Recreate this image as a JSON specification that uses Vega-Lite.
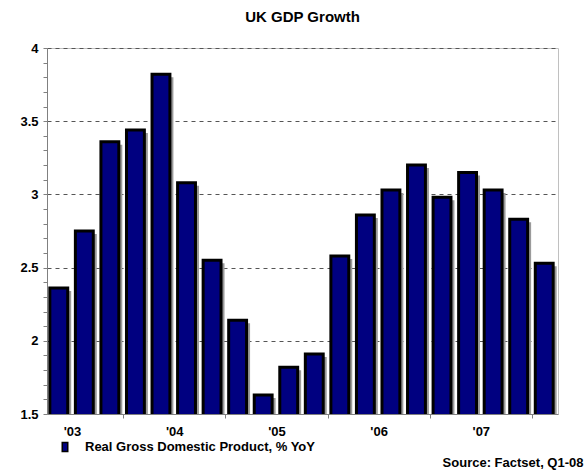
{
  "$schema": "https://vega.github.io/schema/vega-lite/v6.json",
  "autosize": {"type": "none"},
  "padding": {"left": 47, "top": 48, "right": 27, "bottom": 58},
  "width": 511,
  "height": 366,
  "background": "white",
  "title": {"text": "UK GDP Growth", "fontSize": 15, "font": "Liberation Sans", "fontWeight": "bold", "color": "black", "anchor": "middle", "baseline": "alphabetic", "offset": 5},
  "data": {"values": [
    {"quarter": "2003 Q2", "gdp": 2.36, "series": "Real Gross Domestic Product, % YoY"},
    {"quarter": "2003 Q3", "gdp": 2.75, "series": "Real Gross Domestic Product, % YoY"},
    {"quarter": "2003 Q4", "gdp": 3.36, "series": "Real Gross Domestic Product, % YoY"},
    {"quarter": "2004 Q1", "gdp": 3.44, "series": "Real Gross Domestic Product, % YoY"},
    {"quarter": "2004 Q2", "gdp": 3.82, "series": "Real Gross Domestic Product, % YoY"},
    {"quarter": "2004 Q3", "gdp": 3.08, "series": "Real Gross Domestic Product, % YoY"},
    {"quarter": "2004 Q4", "gdp": 2.55, "series": "Real Gross Domestic Product, % YoY"},
    {"quarter": "2005 Q1", "gdp": 2.14, "series": "Real Gross Domestic Product, % YoY"},
    {"quarter": "2005 Q2", "gdp": 1.63, "series": "Real Gross Domestic Product, % YoY"},
    {"quarter": "2005 Q3", "gdp": 1.82, "series": "Real Gross Domestic Product, % YoY"},
    {"quarter": "2005 Q4", "gdp": 1.91, "series": "Real Gross Domestic Product, % YoY"},
    {"quarter": "2006 Q1", "gdp": 2.58, "series": "Real Gross Domestic Product, % YoY"},
    {"quarter": "2006 Q2", "gdp": 2.86, "series": "Real Gross Domestic Product, % YoY"},
    {"quarter": "2006 Q3", "gdp": 3.03, "series": "Real Gross Domestic Product, % YoY"},
    {"quarter": "2006 Q4", "gdp": 3.20, "series": "Real Gross Domestic Product, % YoY"},
    {"quarter": "2007 Q1", "gdp": 2.98, "series": "Real Gross Domestic Product, % YoY"},
    {"quarter": "2007 Q2", "gdp": 3.15, "series": "Real Gross Domestic Product, % YoY"},
    {"quarter": "2007 Q3", "gdp": 3.03, "series": "Real Gross Domestic Product, % YoY"},
    {"quarter": "2007 Q4", "gdp": 2.83, "series": "Real Gross Domestic Product, % YoY"},
    {"quarter": "2008 Q1", "gdp": 2.53, "series": "Real Gross Domestic Product, % YoY"}
  ]},
  "encoding": {
    "x": {
      "field": "quarter", "type": "ordinal", "sort": null,
      "scale": {"paddingInner": 0, "paddingOuter": 0},
      "axis": {
        "title": "Source: Factset, Q1-08",
        "titleFontSize": 13, "titleFont": "Liberation Sans", "titleFontWeight": "bold", "titleColor": "black",
        "titleAnchor": "end", "titleAlign": "right", "titleBaseline": "alphabetic", "titleX": 536, "titleY": 52,
        "values": ["2003 Q2","2003 Q3","2003 Q4","2004 Q1","2004 Q2","2004 Q3","2004 Q4","2005 Q1","2005 Q2","2005 Q3","2005 Q4","2006 Q1","2006 Q2","2006 Q3","2006 Q4","2007 Q1","2007 Q2","2007 Q3","2007 Q4","2008 Q1"],
        "bandPosition": 0,
        "labelAngle": 0,
        "labelOverlap": false,
        "labelExpr": "indexof(datum.value, 'Q3') >= 0 ? \"'\" + substring(datum.value, 2, 4) : ''",
        "labelOffset": -12.8,
        "labelFontSize": 13, "labelFont": "Liberation Sans", "labelFontWeight": "bold", "labelColor": "black",
        "labelPadding": 7,
        "tickSize": 4, "tickColor": "#808080",
        "tickOpacity": {"condition": {"test": "indexof(datum.value, 'Q1') >= 0", "value": 1}, "value": 0},
        "domainColor": "#808080",
        "grid": false
      }
    },
    "y": {
      "field": "gdp", "type": "quantitative",
      "scale": {"domain": [1.5, 4], "nice": false, "zero": false},
      "axis": {
        "title": null,
        "values": [1.5,1.6,1.7,1.8,1.9,2.0,2.1,2.2,2.3,2.4,2.5,2.6,2.7,2.8,2.9,3.0,3.1,3.2,3.3,3.4,3.5,3.6,3.7,3.8,3.9,4.0],
        "labelExpr": "abs(datum.value*2 - round(datum.value*2)) < 0.01 ? format(datum.value, '.1~f') : ''",
        "labelOverlap": false,
        "labelFontSize": 13, "labelFont": "Liberation Sans", "labelFontWeight": "bold", "labelColor": "black",
        "labelPadding": 5,
        "tickSize": 4, "tickColor": "#808080",
        "domainColor": "#808080",
        "grid": true, "gridColor": "#555555", "gridDash": [4, 4],
        "gridOpacity": {"condition": {"test": "abs(datum.value*2 - round(datum.value*2)) < 0.01 && datum.value > 1.6", "value": 1}, "value": 0}
      }
    }
  },
  "layer": [
    {"mark": {"type": "bar", "color": "#9a9a9a", "xOffset": 2.5, "yOffset": 3, "width": {"band": 0.7}, "clip": true}},
    {
      "mark": {"type": "bar", "stroke": "black", "strokeWidth": 3, "xOffset": -1, "width": {"band": 0.7}, "clip": true},
      "encoding": {
        "color": {
          "field": "series", "type": "nominal",
          "scale": {"range": ["#000080"]},
          "legend": {
            "title": null, "orient": "none", "legendX": 11.5, "legendY": 392.5, "padding": 0,
            "symbolType": "M-0.55,-0.9H0.55V0.9H-0.55Z", "symbolSize": 100,
            "symbolStrokeColor": "black", "symbolStrokeWidth": 1.5, "symbolOpacity": 1,
            "labelFontSize": 13, "labelFont": "Liberation Sans", "labelFontWeight": "bold", "labelColor": "black",
            "labelOffset": 13.5, "labelLimit": 400
          }
        }
      }
    }
  ],
  "config": {
    "font": "Liberation Sans",
    "view": {"stroke": "#c0c0c0"}
  }
}
